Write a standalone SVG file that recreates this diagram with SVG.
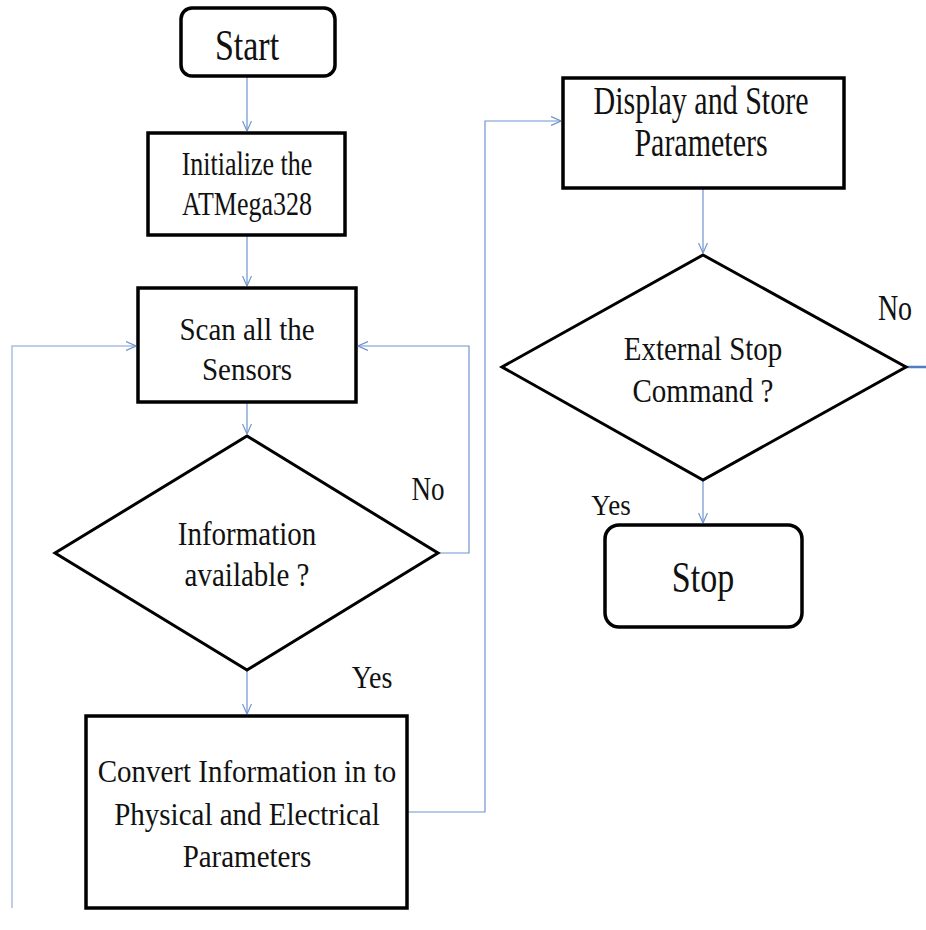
<svg xmlns="http://www.w3.org/2000/svg" width="926" height="930" viewBox="0 0 926 930">
<style>
.box{fill:#fff;stroke:#000;stroke-width:3.5}
.dia{fill:#fff;stroke:#000;stroke-width:3}
.t{font-family:"Liberation Serif","Times New Roman","DejaVu Serif",serif;fill:#111;text-anchor:middle}
.c{fill:none;stroke:#6f94cf;stroke-width:1.2}
.cl{fill:none;stroke:#a9bfe3;stroke-width:1.5}
</style>
<defs>
<marker id="ah" viewBox="0 0 10 10" refX="10" refY="5" markerWidth="10" markerHeight="10" markerUnits="userSpaceOnUse" orient="auto">
<path d="M0,0.5 L10,5 L0,9.5" fill="none" stroke="#6f94cf" stroke-width="1.2"/>
</marker>
</defs>
<rect width="926" height="930" fill="#fff"/>
<g id="connectors">
<line class="c" x1="247" y1="76" x2="247" y2="131" marker-end="url(#ah)"/>
<line class="c" x1="247" y1="235" x2="247" y2="286" marker-end="url(#ah)"/>
<line class="c" x1="247" y1="402" x2="247" y2="434" marker-end="url(#ah)"/>
<polyline class="c" points="438,553 469,553 469,346 358,346" marker-end="url(#ah)"/>
<polyline class="cl" points="12,908 12,346 136,346" marker-end="url(#ah)"/>
<line class="c" x1="247" y1="670" x2="247" y2="714" marker-end="url(#ah)"/>
<polyline class="c" points="407,812 485,812 485,121 561,121" marker-end="url(#ah)"/>
<line class="c" x1="703" y1="188" x2="703" y2="253" marker-end="url(#ah)"/>
<line class="c" x1="703" y1="480" x2="703" y2="523" marker-end="url(#ah)"/>
<line x1="906" y1="367" x2="926" y2="367" stroke="#4f7fbf" stroke-width="2.5"/>
</g>
<g id="start">
<rect class="box" x="181" y="8" width="154" height="68" rx="11"/>
<text class="t" font-size="34" transform="translate(247,60) scale(1,1.32)">Start</text>
</g>
<g id="init">
<rect class="box" x="148" y="133" width="197" height="102"/>
<text class="t" font-size="26" transform="translate(247,175) scale(1,1.33)">Initialize the</text>
<text class="t" font-size="26" transform="translate(247,215) scale(1,1.33)">ATMega328</text>
</g>
<g id="scan">
<rect class="box" x="138" y="288" width="218" height="114"/>
<text class="t" font-size="29" transform="translate(247,340) scale(1,1.1)">Scan all the</text>
<text class="t" font-size="29" transform="translate(247,380) scale(1,1.1)">Sensors</text>
</g>
<g id="info">
<polygon class="dia" points="247,436 438,553 247,670 55,553"/>
<text class="t" font-size="29" transform="translate(247,545) scale(1,1.15)">Information</text>
<text class="t" font-size="29" transform="translate(247,586) scale(1,1.15)">available ?</text>
</g>
<g id="convert">
<rect class="box" x="86" y="716" width="321" height="192"/>
<text class="t" font-size="29" transform="translate(247,782) scale(1,1.12)">Convert Information in to</text>
<text class="t" font-size="29" transform="translate(247,825) scale(1,1.12)">Physical and Electrical</text>
<text class="t" font-size="29" transform="translate(247,867) scale(1,1.12)">Parameters</text>
</g>
<g id="display">
<rect class="box" x="563" y="78" width="281" height="110"/>
<text class="t" font-size="30" transform="translate(701,114) scale(1,1.3)">Display and Store</text>
<text class="t" font-size="30" transform="translate(701,156) scale(1,1.3)">Parameters</text>
</g>
<g id="extstop">
<polygon class="dia" points="703,255 906,367 703,480 502,367"/>
<text class="t" font-size="29" transform="translate(703,360) scale(1,1.15)">External Stop</text>
<text class="t" font-size="29" transform="translate(703,402) scale(1,1.15)">Command ?</text>
</g>
<g id="stop">
<rect class="box" x="605" y="525" width="197" height="102" rx="14"/>
<text class="t" font-size="34" transform="translate(703,592) scale(1,1.29)">Stop</text>
</g>
<g id="labels">
<text class="t" font-size="27" transform="translate(428,500) scale(1,1.28)">No</text>
<text class="t" font-size="28" transform="translate(895,320) scale(1,1.3)">No</text>
<text class="t" font-size="28" transform="translate(372,688) scale(1,1.15)">Yes</text>
<text class="t" font-size="27" transform="translate(611,515) scale(1,1.12)">Yes</text>
</g>
</svg>
